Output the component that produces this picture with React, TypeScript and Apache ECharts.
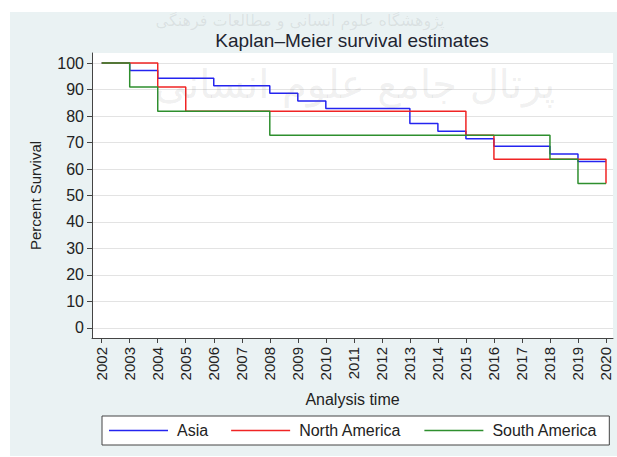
import React, { useEffect, useRef } from "react";
import * as echarts from "echarts";

const years = [2002, 2003, 2004, 2005, 2006, 2007, 2008, 2009, 2010, 2011, 2012, 2013, 2014, 2015, 2016, 2017, 2018, 2019, 2020];
const yTicks = [0, 10, 20, 30, 40, 50, 60, 70, 80, 90, 100];

const asiaTimes = [2002, 2003, 2004, 2006, 2008, 2009, 2010, 2013, 2014, 2015, 2016, 2018, 2019, 2020];
const asiaSurvival = [100, 97.14, 94.29, 91.43, 88.57, 85.71, 82.86, 77.14, 74.29, 71.43, 68.57, 65.71, 62.86, 62.86];

const naTimes = [2002, 2004, 2005, 2015, 2016, 2020];
const naSurvival = [100, 90.91, 81.82, 72.73, 63.64, 54.55];

const saTimes = [2002, 2003, 2004, 2008, 2018, 2019, 2020];
const saSurvival = [100, 90.91, 81.82, 72.73, 63.64, 54.55, 54.55];

const seriesNames = ["Asia", "North America", "South America"];
const seriesColors = ["#2424f0", "#f02424", "#2e8f2e"];

const FONT = "'Liberation Sans', Arial, sans-serif";

function pairs(t: number[], v: number[]) {
  return t.map((x, i) => [x, v[i]]);
}

export default function App() {
  const ref = useRef<HTMLDivElement>(null);
  useEffect(() => {
    if (!ref.current) return;
    const chart = echarts.init(ref.current, null, { renderer: "svg" });
    const datasets = [
      pairs(asiaTimes, asiaSurvival),
      pairs(naTimes, naSurvival),
      pairs(saTimes, saSurvival),
    ];
    chart.setOption({
      animation: false,
      backgroundColor: "#eaf2f3",
      title: {
        text: "Kaplan–Meier survival estimates",
        left: 342,
        top: 19,
        textAlign: "center",
        padding: 0,
        textStyle: { fontFamily: FONT, fontSize: 19, fontWeight: "normal", color: "#1e2430" },
      },
      graphic: [
        {
          type: "text",
          x: 290,
          y: 0,
          z: 100,
          silent: true,
          style: {
            text: "پژوهشگاه علوم انسانی و مطالعات فرهنگی",
            font: "16px 'DejaVu Sans'",
            fill: "rgba(110,110,110,0.13)",
            align: "center",
            verticalAlign: "top",
          },
        },
        {
          type: "text",
          x: 345,
          y: 52,
          z: 100,
          silent: true,
          style: {
            text: "پرتال جامع علوم انسانی",
            font: "40px 'DejaVu Sans'",
            fill: "rgba(110,110,110,0.11)",
            align: "center",
            verticalAlign: "top",
          },
        },
      ],
      legend: {
        data: seriesNames.map((n) => ({ name: n, icon: "rect" })),
        left: 92,
        top: 404,
        orient: "horizontal",
        itemWidth: 59,
        itemHeight: 1.5,
        itemGap: 23,
        padding: [6, 12, 6, 7],
        backgroundColor: "#ffffff",
        borderColor: "#444",
        borderWidth: 1,
        borderRadius: 0,
        textStyle: { fontFamily: FONT, fontSize: 16, color: "#222", padding: [0, 0, 0, 4], lineHeight: 17 },
      },
      grid: {
        left: 82,
        right: 4,
        top: 41,
        bottom: 118,
        show: true,
        backgroundColor: "#ffffff",
        borderWidth: 0,
      },
      xAxis: {
        type: "value",
        min: 2001.654,
        max: 2020.25,
        name: "Analysis time",
        nameLocation: "middle",
        nameGap: 53,
        nameTextStyle: { fontFamily: FONT, fontSize: 16, color: "#222" },
        axisLine: { show: true, onZero: false, lineStyle: { color: "#444", width: 1 } },
        axisTick: { show: true, length: 5, customValues: years, lineStyle: { color: "#444" } },
        axisLabel: {
          customValues: years,
          rotate: 90,
          margin: 9,
          fontFamily: FONT,
          fontSize: 15,
          color: "#222",
          formatter: (v: number) => String(Math.round(v)),
        },
        splitLine: { show: false },
      },
      yAxis: {
        type: "value",
        min: -3.79,
        max: 103.79,
        name: "Percent Survival",
        nameLocation: "middle",
        nameGap: 49,
        nameTextStyle: { fontFamily: FONT, fontSize: 15, color: "#222" },
        axisLine: { show: true, onZero: false, lineStyle: { color: "#444", width: 1 } },
        axisTick: { show: true, length: 5, customValues: yTicks, lineStyle: { color: "#444" } },
        axisLabel: {
          customValues: yTicks,
          margin: 8,
          fontFamily: FONT,
          fontSize: 16,
          color: "#222",
          formatter: (v: number) => String(Math.round(v)),
        },
        splitLine: { show: true, lineStyle: { color: "#e3e3e3", width: 1 } },
      },
      series: datasets.map((d, i) => ({
        name: seriesNames[i],
        type: "line",
        step: "end",
        data: d,
        symbol: "none",
        color: seriesColors[i],
        lineStyle: { color: seriesColors[i], width: 1.5 },
      })),
    });
    return () => chart.dispose();
  }, []);
  return (
    <div style={{ position: "absolute", left: 0, top: 0, width: 617, height: 457, background: "#fff" }}>
      <div ref={ref} style={{ position: "absolute", left: 10, top: 12, width: 607, height: 444 }} />
    </div>
  );
}
